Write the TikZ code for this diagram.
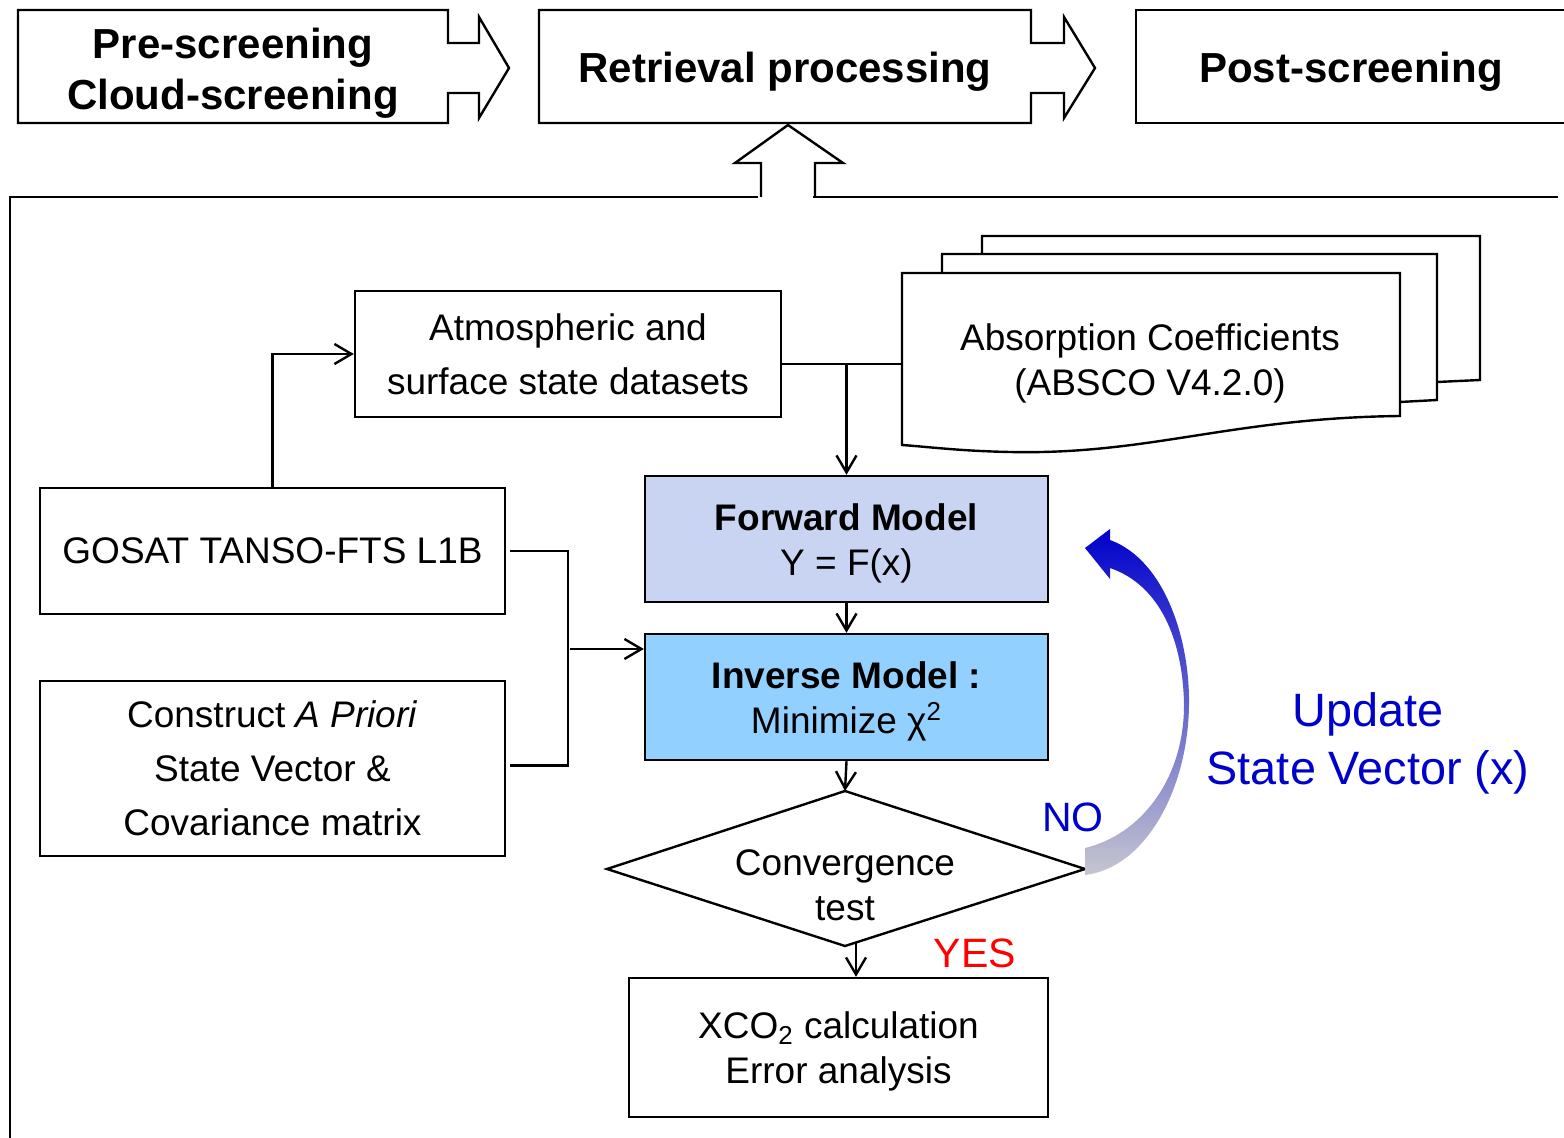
\documentclass[tikz,border=0pt]{standalone}
\usepackage{fontspec}
\setmainfont{Liberation Sans}
\usetikzlibrary{arrows.meta}
\definecolor{fwdfill}{RGB}{201,211,242}
\definecolor{invfill}{RGB}{146,208,255}
\definecolor{ublue}{RGB}{0,0,204}
\definecolor{ured}{RGB}{255,0,0}
\definecolor{arrtop}{RGB}{0,0,204}
\definecolor{arrmid}{RGB}{100,100,215}
\definecolor{arrbot}{RGB}{198,198,208}
\tikzset{
  ln/.style={line width=1.2pt, line join=miter},
  arr/.style={ln, -{Straight Barb[length=8.5pt,width=10pt,line width=1.2pt]}},
  box/.style={draw, ln, rectangle, inner sep=0pt, align=center},
  txt/.style={font=\fontsize{18.5}{22.5}\selectfont, align=center},
  txtwide/.style={font=\fontsize{18.5}{27}\selectfont, align=center},
  toptxt/.style={font=\fontsize{21}{25.5}\selectfont\bfseries, align=center},
  lbl/.style={font=\fontsize{20.5}{25}\selectfont},
}
\begin{document}
\begin{tikzpicture}[x=0.5pt,y=-0.5pt]
\useasboundingbox (0,0) rectangle (1564,1138);

% top row
\draw[ln] (18,10) -- (448,10) -- (448,43) -- (479,43) -- (479,17) -- (509,68) -- (479,118) -- (479,93) -- (448,93) -- (448,123) -- (18,123) -- cycle;
\node[toptxt] (pre) at (233,73.5) {Pre-screening\\Cloud-screening};
\draw[ln] (539,10) -- (1031,10) -- (1031,43) -- (1064,43) -- (1064,17) -- (1095,68) -- (1064,118) -- (1064,93) -- (1031,93) -- (1031,123) -- (539,123) -- cycle;
\node[toptxt] (ret) at (785,72) {Retrieval processing};
\draw[ln] (1575,10) -- (1136,10) -- (1136,123) -- (1575,123);
\node[toptxt] (post) at (1351,72) {Post-screening};

% up arrow and frame
\draw[ln] (761,197) -- (761,163) -- (735,163) -- (788,125) -- (843,163) -- (815,163) -- (815,197);
\draw[ln] (758,197) -- (10,197) -- (10,1150);
\draw[ln] (813,197) -- (1558,197);

% ABSCO stack
\draw[ln, fill=white] (982,236) -- (1480,236) -- (1480,380) -- (1437,382) -- (982,382) -- cycle;
\draw[ln, fill=white] (942,254) -- (1437,254) -- (1437,400) -- (1400,402) -- (942,402) -- cycle;
\draw[ln, fill=white] (902,273) -- (1400,273) -- (1400,416) .. controls (1230,418) and (1150,455) .. (1010,452) .. controls (960,451) and (930,447) .. (902,445) -- cycle;
\node[txt] (absco) at (1150,363) {Absorption Coefficients\\(ABSCO V4.2.0)};
\coordinate (abscoW) at (902,364);

% boxes
\node[box, txtwide, minimum width=213pt, minimum height=63pt] (atm) at (568,354) {Atmospheric and\\surface state datasets};
\node[box, txt, minimum width=232.5pt, minimum height=63pt] (gosat) at (272.5,551) {GOSAT TANSO-FTS L1B};
\node[box, txtwide, minimum width=232.5pt, minimum height=87.5pt] (apriori) at (272.5,768.5) {Construct \textit{A Priori}\\State Vector \&\\Covariance matrix};
\node[box, fill=fwdfill, minimum width=201.5pt, minimum height=63pt] (fwd) at (846.5,539) {};
\node[txt] (fwdtext) at (846.5,543) {\textbf{Forward Model}\\Y = F(x)};
\node[box, fill=invfill, minimum width=201.5pt, minimum height=63pt] (inv) at (846.5,697) {};
\node[txt] (invtext) at (846.5,701) {\textbf{Inverse Model :}\\Minimize χ\textsuperscript{2}};
\draw[ln] (607,869) -- (845,791) -- (1085,869) -- (845,946) -- cycle;
\coordinate (convtop) at (845,791);
\coordinate (convbot) at (856,943);
\node[txt] (conv) at (845,885) {Convergence\\test};
\node[box, minimum width=209.5pt, minimum height=69.5pt] (xco) at (838.5,1047.5) {};
\node[txt] (xcotext) at (838.5,1051.5) {XCO\textsubscript{2} calculation\\Error analysis};

% connectors
\draw[arr] (gosat.north) |- (atm.west);
\draw[ln] (atm.east |- abscoW) -- (abscoW);
\coordinate (jn) at (fwd.north |- abscoW);
\draw[arr] (jn) -- (fwd.north);
\draw[ln] ([xshift=2pt]gosat.east) -- ++(58,0) |- ([xshift=2pt,yshift=1.5pt]apriori.east);
\coordinate (brk) at (570,649);
\draw[arr] (brk) -- (inv.west |- brk);
\draw[arr] (fwd.south) -- (inv.north);
\draw[arr] (inv.south) -- (convtop);
\draw[arr] (convbot) -- (convbot |- xco.north);

% update arrow
\shade[top color=arrtop, middle color=arrmid, bottom color=arrbot]
  (1085,548) -- (1110,529) -- (1110,540)
  .. controls (1165,560) and (1190,640) .. (1189,705)
  .. controls (1188,790) and (1145,868) .. (1085,875)
  -- (1085,848)
  .. controls (1140,835) and (1184,780) .. (1184,705)
  .. controls (1183,640) and (1160,585) .. (1110,568)
  -- (1110,579) -- cycle;

% labels
\node[lbl, text=ublue] (no) at (1073,817) {NO};
\node[lbl, text=ured] (yes) at (975,953) {YES};
\node[font=\fontsize{23.4}{29}\selectfont, text=ublue, align=center] (upd) at (1368,743) {Update\\State Vector (x)};
\end{tikzpicture}
\end{document}
